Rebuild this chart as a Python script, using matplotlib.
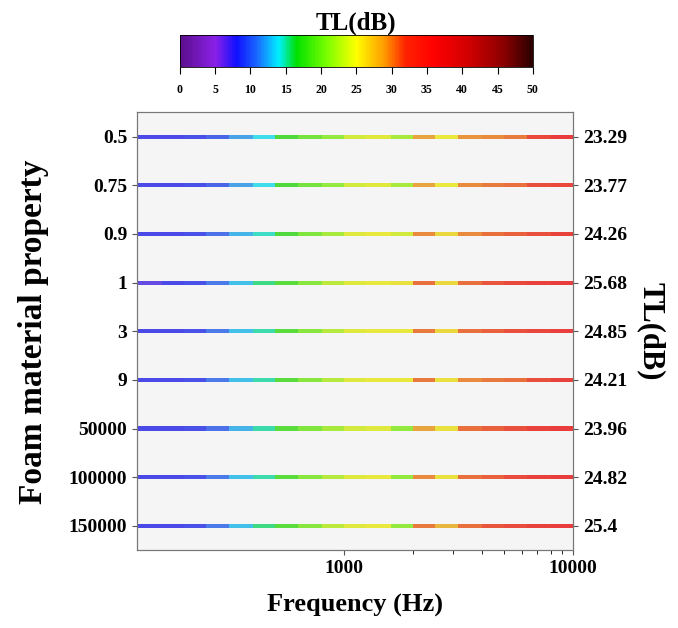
import matplotlib

matplotlib.use("Agg")
import matplotlib.pyplot as plt
import numpy as np
from matplotlib.colors import LinearSegmentedColormap, ListedColormap, Normalize, to_rgb

plt.rcParams["font.family"] = ["Liberation Serif", "DejaVu Serif"]
plt.rcParams["font.weight"] = "bold"

# one-third octave band centres (Hz); each band holds its value up to the next one
FREQS = [125, 160, 200, 250, 315, 400, 500, 630, 800, 1000, 1250, 1600,
         2000, 2500, 3150, 4000, 5000, 6300, 8000]
F_END = 10000

PROPERTIES = ["0.5", "0.75", "0.9", "1", "3", "9", "50000", "100000", "150000"]
MEAN_TL = ["23.29", "23.77", "24.26", "25.68", "24.85", "24.21", "23.96", "24.82", "25.4"]

# TL (dB) per band, one list per foam property
TL_05 = [8, 8, 8.5, 9.5, 12, 14, 17.5, 19.5, 21, 24, 24.5, 22, 29, 25, 29.5, 30, 30.5, 34, 36]
TL_075 = [8, 8, 8.5, 9.5, 12, 14, 17.5, 19.5, 21, 24, 24.5, 22, 29, 25, 30, 30.5, 31, 33, 34]
TL_09 = [8, 8, 8.5, 10, 12.5, 14.5, 17.5, 20, 22, 24.5, 25, 24, 30, 26, 30, 31, 31.5, 33, 35]
TL_1 = [7, 8, 8.5, 10.5, 13, 15.5, 18, 20.5, 23, 24.5, 25, 25.5, 31, 26, 31, 32, 34, 35, 36]
TL_3 = [8, 8, 8.5, 10.5, 13, 15, 18, 20.5, 22.5, 24.5, 25, 25, 30.5, 26, 31, 31.5, 33, 34.5, 35.5]
TL_9 = [8, 8, 8.5, 10.5, 13, 15, 18, 20.5, 22.5, 24.5, 25, 25, 30.5, 25.5, 30, 30.5, 31, 33, 35]
TL_50000 = [8, 8, 8.5, 10, 12.5, 15, 18, 20, 22, 24, 24.5, 21, 29, 25.5, 31, 31.5, 33, 35, 36]
TL_100000 = [8, 8, 8.5, 10.5, 13, 15, 18, 20.5, 22.5, 24.5, 25, 21, 30, 25.5, 31, 31.5, 33.5, 35, 36]
TL_150000 = [8, 8, 8.5, 10.5, 13, 15.5, 18, 20.5, 23, 24.5, 25, 21, 30.5, 28, 31, 32, 33.5, 35, 36]
ROWS = [TL_05, TL_075, TL_09, TL_1, TL_3, TL_9, TL_50000, TL_100000, TL_150000]

cmap = LinearSegmentedColormap.from_list("tl", [
    (0.0, "#5a0f8c"), (0.10, "#8a20e8"), (0.16, "#1010ff"), (0.22, "#1a6cff"),
    (0.28, "#00f0ff"), (0.33, "#00e000"), (0.42, "#80ff00"), (0.50, "#ffff00"),
    (0.58, "#ff9a00"), (0.64, "#ff2200"), (0.72, "#ff0000"), (0.82, "#d00000"),
    (0.92, "#8a0000"), (1.0, "#2a0000"),
])
norm = Normalize(0, 50)
BG = np.array(to_rgb("#f5f5f5"))
ALPHA = 0.75
SHADE = 0.9  # lines in the original look a bit darker and paler than the colour bar
line_cmap = ListedColormap(cmap(np.linspace(0, 1, 256))[:, :3] * SHADE * ALPHA + BG * (1 - ALPHA))

fig = plt.figure(figsize=(6.78, 6.28), dpi=100)
ax = fig.add_axes([0.202, 0.124, 0.643, 0.697])
ax.set_facecolor(BG)

edges = FREQS + [F_END]
half = 0.042  # half line thickness in row units
for i, vals in enumerate(ROWS):
    ax.pcolormesh(edges, [i - half, i + half], [vals], cmap=line_cmap, norm=norm,
                  shading="flat", edgecolors="none")

ax.set_xscale("log")
ax.set_xlim(125, F_END)
ax.set_ylim(len(PROPERTIES) - 0.5, -0.5)
ax.set_xticks([1000, 10000])
ax.set_xticklabels(["1000", "10000"])
ax.set_xticks([2000, 3000, 4000, 5000, 6000, 7000, 8000, 9000], minor=True)
ax.tick_params(axis="x", which="minor", labelbottom=False, length=3)
ax.set_yticks(range(len(PROPERTIES)))
ax.set_yticklabels(PROPERTIES)
ax.tick_params(labelsize=14, color="#555555")
for s in ax.spines.values():
    s.set_color("#777777")
ax.set_xlabel("Frequency (Hz)", fontsize=19, fontweight="bold", labelpad=12)
ax.set_ylabel("Foam material property", fontsize=24, fontweight="bold", labelpad=14)

ax2 = ax.twinx()
ax2.set_ylim(ax.get_ylim())
ax2.set_yticks(range(len(MEAN_TL)))
ax2.set_yticklabels(MEAN_TL)
ax2.tick_params(labelsize=14, color="#555555")
ax2.set_ylabel("TL(dB)", fontsize=22, fontweight="bold", rotation=-90, labelpad=28)
for s in ax2.spines.values():
    s.set_color("#777777")

cax = fig.add_axes([0.265, 0.893, 0.521, 0.051])
sm = plt.cm.ScalarMappable(norm=norm, cmap=cmap)
cb = fig.colorbar(sm, cax=cax, orientation="horizontal", ticks=range(0, 51, 5))
cb.ax.tick_params(labelsize=8.5, length=5, pad=7)
cb.outline.set_linewidth(0.6)
cax.set_title("TL(dB)", fontsize=18, fontweight="bold", pad=4)

fig.savefig("out.png", dpi=100)
